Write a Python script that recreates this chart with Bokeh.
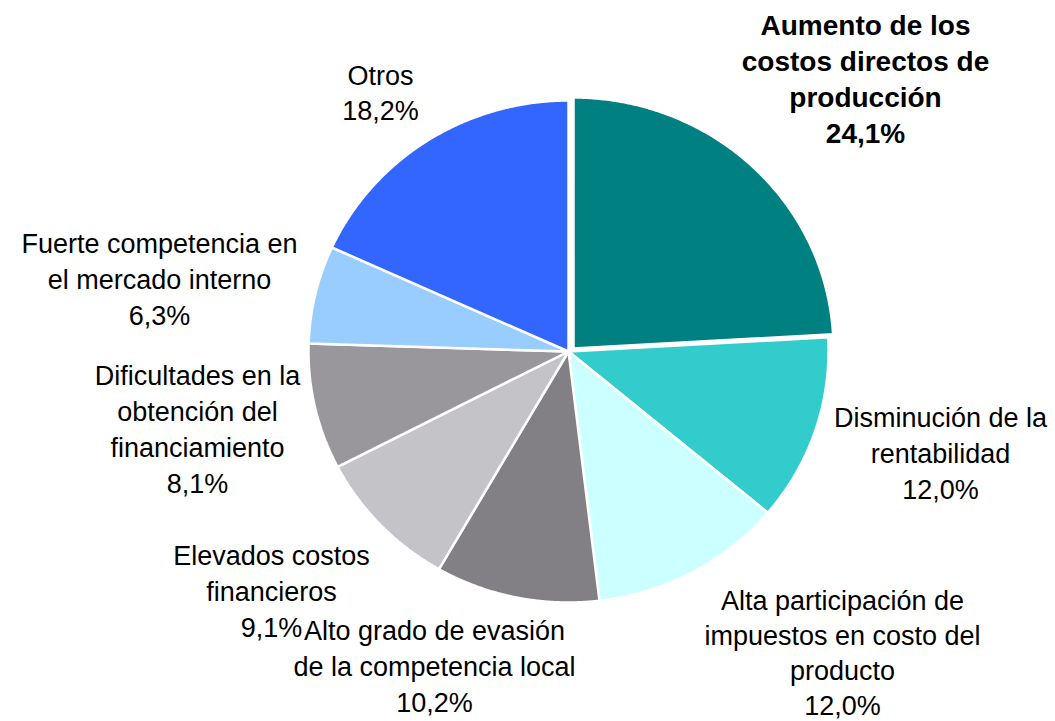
import numpy as np
from bokeh.plotting import figure
from bokeh.models import Range1d, ColumnDataSource
from bokeh.core.properties import value
from bokeh.embed import file_html
from bokeh.resources import INLINE

# ---------------- data ----------------
categories = [
    "Aumento de los\ncostos directos de\nproducción",
    "Disminución de la\nrentabilidad",
    "Alta participación de\nimpuestos en costo del\nproducto",
    "Alto grado de evasión\nde la competencia local",
    "Elevados costos\nfinancieros",
    "Dificultades en la\nobtención del\nfinanciamiento",
    "Fuerte competencia en\nel mercado interno",
    "Otros",
]
shares = [24.1, 12.0, 12.0, 10.2, 9.1, 8.1, 6.3, 18.2]

# ---------------- styles / layout ----------------
colors = ["#008080", "#33CCCC", "#CCFFFF", "#828084", "#C4C3C7", "#99979B", "#99CCFF", "#3366FF"]
bold = [True, False, False, False, False, False, False, False]
label_anchor = [(865, 25), (940, 417), (842, 600), (434, 630),
                (271, 555), (197, 375), (159, 243), (380, 75)]
line_steps = [36, 36, 35, 36, 36, 36, 36, 35]
CX, CY, RX, RY = 568, 351, 260, 251
explode = [(5, -3), (0, 0), (0, 0), (0, 0), (0, 0), (0, 0), (0, 0), (0, 0)]

W, H = 1055, 721
p = figure(width=W, height=H, output_backend="svg", toolbar_location=None,
           x_range=Range1d(0, W), y_range=Range1d(H, 0),
           min_border=0, outline_line_color=None)
p.axis.visible = False
p.grid.visible = False
p.background_fill_color = "white"

total = float(sum(shares))
cum = np.concatenate([[0.0], np.cumsum(shares)]) / total * 2 * np.pi
xs, ys = [], []
for i in range(len(shares)):
    a0, a1 = cum[i], cum[i + 1]
    t = np.linspace(a0, a1, 200)
    dx, dy = explode[i]
    px = np.concatenate([[CX], CX + RX * np.sin(t), [CX]]) + dx
    py = np.concatenate([[CY], CY - RY * np.cos(t), [CY]]) + dy
    xs.append(list(px))
    ys.append(list(py))

src = ColumnDataSource(dict(xs=xs, ys=ys, color=colors))
p.patches("xs", "ys", source=src, fill_color="color", line_color="white", line_width=2.5)

# ---------------- labels ----------------
tx, ty, tt = [], [], []
bx, by, bt = [], [], []
for i, (name, v) in enumerate(zip(categories, shares)):
    lines = name.split("\n") + [f"{v:.1f}".replace(".", ",") + "%"]
    x0, y0 = label_anchor[i]
    for k, ln in enumerate(lines):
        if bold[i]:
            bx.append(x0); by.append(y0 + k * line_steps[i]); bt.append(ln)
        else:
            tx.append(x0); ty.append(y0 + k * line_steps[i]); tt.append(ln)

p.text(x=tx, y=ty, text=tt, text_align="center", text_baseline="middle",
       text_font=value("Liberation Sans"), text_font_size="27px", text_color="black")
p.text(x=bx, y=by, text=bt, text_align="center", text_baseline="middle",
       text_font=value("Liberation Sans"), text_font_size="28px", text_font_style="bold",
       text_color="black")

open("out.html", "w").write(file_html(p, INLINE))
